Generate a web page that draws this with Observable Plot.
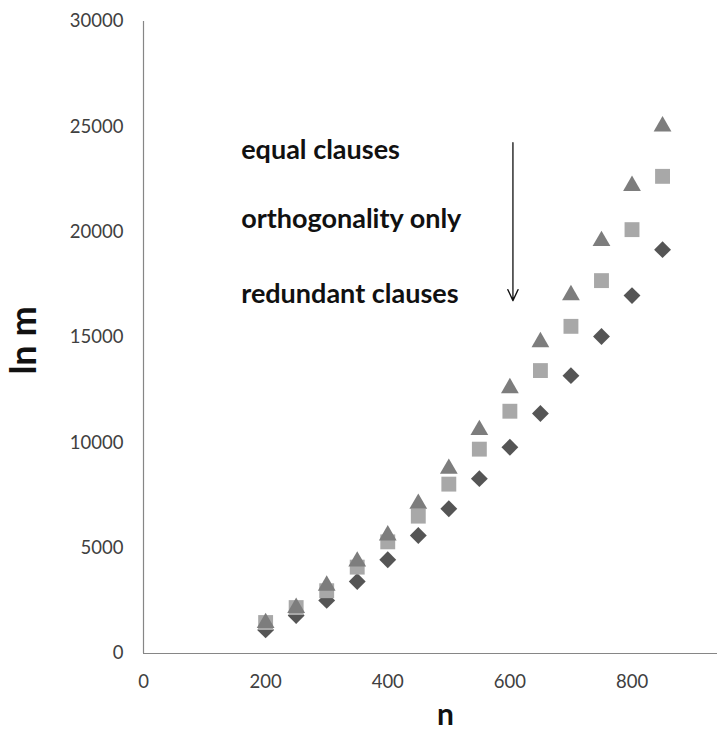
<!DOCTYPE html>
<html>
<head>
<meta charset="utf-8">
<script src="https://cdn.jsdelivr.net/npm/d3@7"></script>
<script src="https://cdn.jsdelivr.net/npm/@observablehq/plot@0.6"></script>
<style>
  html, body { margin: 0; padding: 0; background: #fff; }
  #chart svg { display: block; }
</style>
</head>
<body>
<div id="chart"></div>
<script>
// ---- data ----
const nValues = [200, 250, 300, 350, 400, 450, 500, 550, 600, 650, 700, 750, 800, 850];
const equalClauses = [1570, 2290, 3340, 4490, 5730, 7230, 8890, 10730, 12720, 14900, 17130, 19700, 22320, 25140];
const orthogonalityOnly = [1470, 2180, 2980, 4100, 5300, 6520, 8040, 9700, 11500, 13430, 15530, 17700, 20120, 22650];
const redundantClauses = [1120, 1800, 2520, 3420, 4450, 5600, 6870, 8300, 9790, 11390, 13190, 15050, 16990, 19170];
const xTicks = [0, 200, 400, 600, 800];
const yTicks = [0, 5000, 10000, 15000, 20000, 25000, 30000];
const annotationLabels = ["equal clauses", "orthogonality only", "redundant clauses"];
const annotationN = [160, 160, 160];
const annotationY = [23900, 20600, 17050];
const arrowN = 605;
const arrowFrom = 24250;
const arrowTo = 16750;

const rows = (vals) => nValues.map((n, i) => ({n, v: vals[i]}));
const annotations = annotationLabels.map((t, i) => ({t, x: annotationN[i], y: annotationY[i]}));
const FONT = "Lato, 'Open Sans', sans-serif";

const chart = Plot.plot({
  width: 718,
  height: 733,
  marginLeft: 143,
  marginRight: 1,
  marginTop: 21,
  marginBottom: 80,
  style: {background: "#fff", fontFamily: FONT},
  x: {domain: [0, 940], ticks: xTicks},
  y: {domain: [0, 30000], ticks: yTicks},
  marks: [
    Plot.axisY(yTicks, {tickSize: 0, tickPadding: 20, fontSize: 18.5, color: "#404040", tickFormat: d => String(d), label: null}),
    Plot.axisX(xTicks, {tickSize: 0, tickPadding: 21, fontSize: 18.5, color: "#404040", tickFormat: d => String(d), label: null}),
    Plot.ruleX([0], {stroke: "#868686", strokeWidth: 1.2}),
    Plot.ruleY([0], {stroke: "#868686", strokeWidth: 1.2}),
    Plot.dot(rows(redundantClauses), {x: "n", y: "v", symbol: "diamond2", r: 7.6, fill: "#555555", stroke: "none"}),
    Plot.dot(rows(orthogonalityOnly), {x: "n", y: "v", symbol: "square", r: 8.4, fill: "#a8a8a8", stroke: "none"}),
    Plot.dot(rows(equalClauses), {x: "n", y: "v", symbol: "triangle", r: 6.6, dy: 2.5, fill: "#7d7d7d", stroke: "none"}),
    Plot.text(annotations, {x: "x", y: "y", text: "t", textAnchor: "start", fontWeight: "bold", fontSize: 27, fill: "#111", fontFamily: FONT}),
    Plot.arrow([{x: arrowN, y1: arrowFrom, y2: arrowTo}], {x1: "x", x2: "x", y1: "y1", y2: "y2", stroke: "#111", strokeWidth: 1.3, headLength: 14, headAngle: 50}),
    Plot.text(["n"], {frameAnchor: "bottom", textAnchor: "middle", lineAnchor: "middle", dx: 15, dy: 62, fontWeight: "bold", fontSize: 30, fill: "#111", fontFamily: FONT}),
    Plot.text(["ln m"], {frameAnchor: "left", textAnchor: "middle", lineAnchor: "middle", dx: -119, dy: 3, rotate: -90, fontWeight: "bold", fontSize: 36, fill: "#111", fontFamily: FONT})
  ]
});
document.getElementById("chart").appendChild(chart);
</script>
</body>
</html>
